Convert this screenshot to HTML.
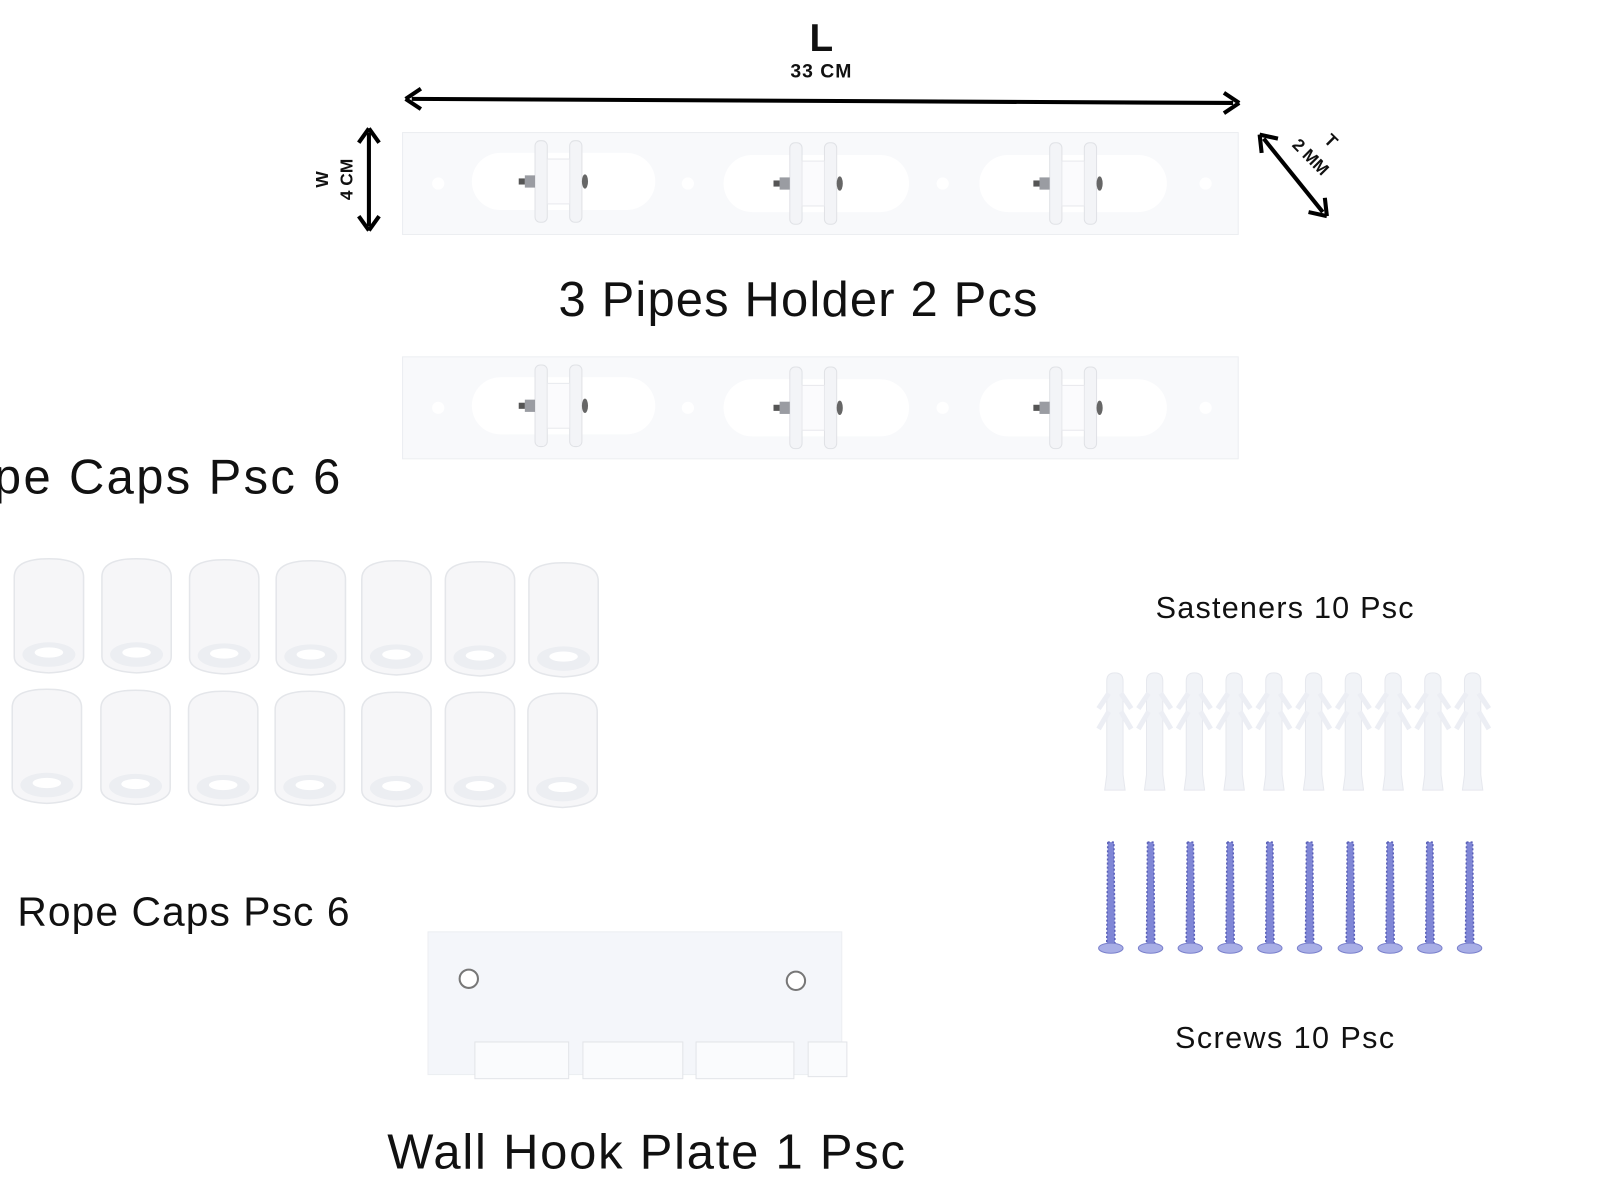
<!DOCTYPE html>
<html><head><meta charset="utf-8"><style>
html,body{margin:0;padding:0;background:#fff;width:1600px;height:1200px;overflow:hidden}
svg{display:block}
text{font-family:"Liberation Sans","DejaVu Sans",sans-serif;fill:#111}
</style></head><body>
<svg width="1600" height="1200" viewBox="0 0 1570 1177" preserveAspectRatio="none">
<defs>
<g id="cap">
 <path d="M0,18 Q0,0 34,0 Q68,0 68,18 L68,96 Q68,110 34,112 Q0,110 0,96 Z" fill="#f6f6f8" stroke="#e4e6ea" stroke-width="1.5"/>
 <ellipse cx="34" cy="94" rx="26" ry="12" fill="#eceef2"/>
 <ellipse cx="34" cy="92" rx="14" ry="5" fill="#fff"/>
</g>
<g id="roller">
 <rect x="-20" y="-40" width="12" height="80" rx="5" fill="#f3f4f7" stroke="#e0e2e6"/>
 <rect x="14" y="-40" width="12" height="80" rx="5" fill="#f3f4f7" stroke="#e0e2e6"/>
 <rect x="-8" y="-22" width="22" height="44" fill="#fbfbfd" stroke="#e8e9ed"/>
 <rect x="-30" y="-6" width="10" height="12" fill="#9a9ca2"/>
 <rect x="-36" y="-3" width="6" height="6" fill="#555"/>
 <ellipse cx="29" cy="0" rx="3" ry="7" fill="#666"/>
</g>
<g id="bar">
 <rect x="0" y="0" width="820" height="100" fill="#f8f9fb" stroke="#eceef1"/>
 <ellipse cx="35" cy="50" rx="6" ry="6" fill="#fff"/>
 <ellipse cx="280" cy="50" rx="6" ry="6" fill="#fff"/>
 <ellipse cx="530" cy="50" rx="6" ry="6" fill="#fff"/>
 <ellipse cx="788" cy="50" rx="6" ry="6" fill="#fff"/>
 <rect x="68" y="20" width="180" height="56" rx="28" fill="#fff"/>
 <rect x="315" y="22" width="182" height="56" rx="28" fill="#fff"/>
 <rect x="566" y="22" width="184" height="56" rx="28" fill="#fff"/>
 <use href="#roller" x="150" y="48"/>
 <use href="#roller" x="400" y="50"/>
 <use href="#roller" x="655" y="50"/>
</g>
<g id="plug">
 <path d="M-8,8 Q-8,0 0,0 Q8,0 8,8 L8,100 L10,115 L-10,115 L-8,100 Z" fill="#f1f3f7" stroke="#e6e8ee"/>
 <path d="M-6,20 L-16,35 M6,20 L16,35 M-6,38 L-16,55 M6,38 L16,55" stroke="#eceef4" stroke-width="5" fill="none"/>
</g>
<g id="screw">
 <path d="M-3,0 L3,0 L4,100 L-4,100 Z" fill="#7f86d6" stroke="#5a60b8" stroke-width="1.5" stroke-dasharray="2 2"/>
 <ellipse cx="0" cy="104" rx="12" ry="5" fill="#a8aee6" stroke="#7a80cc"/>
</g>
</defs>

<text x="806" y="50" font-size="38" text-anchor="middle" font-weight="bold">L</text>
<text x="806" y="76" font-size="19" text-anchor="middle" font-weight="bold" letter-spacing="1">33 CM</text>
<line x1="404" y1="97" x2="1210" y2="101" stroke="#000" stroke-width="4"/>
<path d="M398,97 L413,87 M398,97 L413,107" stroke="#000" stroke-width="4" fill="none"/>
<path d="M1216,101 L1201,91 M1216,101 L1201,111" stroke="#000" stroke-width="4" fill="none"/>

<line x1="362" y1="130" x2="362" y2="222" stroke="#000" stroke-width="4"/>
<path d="M362,126 L352,140 M362,126 L372,140 M362,226 L352,212 M362,226 L372,212" stroke="#000" stroke-width="4" fill="none"/>
<text transform="translate(322,176) rotate(-90)" font-size="17" font-weight="bold" text-anchor="middle">W</text>
<text transform="translate(346,176) rotate(-90)" font-size="17" font-weight="bold" text-anchor="middle">4 CM</text>

<line x1="1240" y1="136" x2="1298" y2="208" stroke="#000" stroke-width="4"/>
<path d="M1236,132 L1238,150 M1236,132 L1254,136 M1302,212 L1300,194 M1302,212 L1284,208" stroke="#000" stroke-width="4" fill="none"/>
<text transform="translate(1302,142) rotate(45)" font-size="17" font-weight="bold" text-anchor="middle">T</text>
<text transform="translate(1282,158) rotate(45)" font-size="17" font-weight="bold" text-anchor="middle">2 MM</text>

<use href="#bar" x="395" y="130"/>
<text x="783" y="310" font-size="48" text-anchor="middle" textLength="470">3 Pipes Holder 2 Pcs</text>
<use href="#bar" x="395" y="350"/>

<text x="-6" y="484" font-size="48" textLength="340">pe Caps  Psc 6</text>

<use href="#cap" x="14" y="548"/><use href="#cap" x="100" y="548"/><use href="#cap" x="186" y="549"/><use href="#cap" x="271" y="550"/><use href="#cap" x="355" y="550"/><use href="#cap" x="437" y="551"/><use href="#cap" x="519" y="552"/>
<use href="#cap" x="12" y="676"/><use href="#cap" x="99" y="677"/><use href="#cap" x="185" y="678"/><use href="#cap" x="270" y="678"/><use href="#cap" x="355" y="679"/><use href="#cap" x="437" y="679"/><use href="#cap" x="518" y="680"/>

<text x="17" y="908" font-size="40" textLength="326">Rope Caps Psc 6</text>

<rect x="420" y="914" width="406" height="140" fill="#f4f6fa" stroke="#eceef2"/>
<circle cx="460" cy="960" r="9" fill="#fff" stroke="#777" stroke-width="2"/>
<circle cx="781" cy="962" r="9" fill="#fff" stroke="#777" stroke-width="2"/>
<rect x="466" y="1022" width="92" height="36" fill="#fafbfd" stroke="#e2e4e8"/>
<rect x="572" y="1022" width="98" height="36" fill="#fafbfd" stroke="#e2e4e8"/>
<rect x="683" y="1022" width="96" height="36" fill="#fafbfd" stroke="#e2e4e8"/>
<rect x="793" y="1022" width="38" height="34" fill="#fafbfd" stroke="#e2e4e8"/>
<text x="380" y="1146" font-size="48" textLength="508">Wall Hook  Plate 1 Psc</text>

<text x="1134" y="606" font-size="30" textLength="253">Sasteners 10 Psc</text>
<use href="#plug" x="1094" y="660"/><use href="#plug" x="1133" y="660"/><use href="#plug" x="1172" y="660"/><use href="#plug" x="1211" y="660"/><use href="#plug" x="1250" y="660"/><use href="#plug" x="1289" y="660"/><use href="#plug" x="1328" y="660"/><use href="#plug" x="1367" y="660"/><use href="#plug" x="1406" y="660"/><use href="#plug" x="1445" y="660"/>
<use href="#screw" x="1090" y="826"/><use href="#screw" x="1129" y="826"/><use href="#screw" x="1168" y="826"/><use href="#screw" x="1207" y="826"/><use href="#screw" x="1246" y="826"/><use href="#screw" x="1285" y="826"/><use href="#screw" x="1325" y="826"/><use href="#screw" x="1364" y="826"/><use href="#screw" x="1403" y="826"/><use href="#screw" x="1442" y="826"/>
<text x="1153" y="1028" font-size="30" textLength="215">Screws 10 Psc</text>
</svg>
</body></html>
